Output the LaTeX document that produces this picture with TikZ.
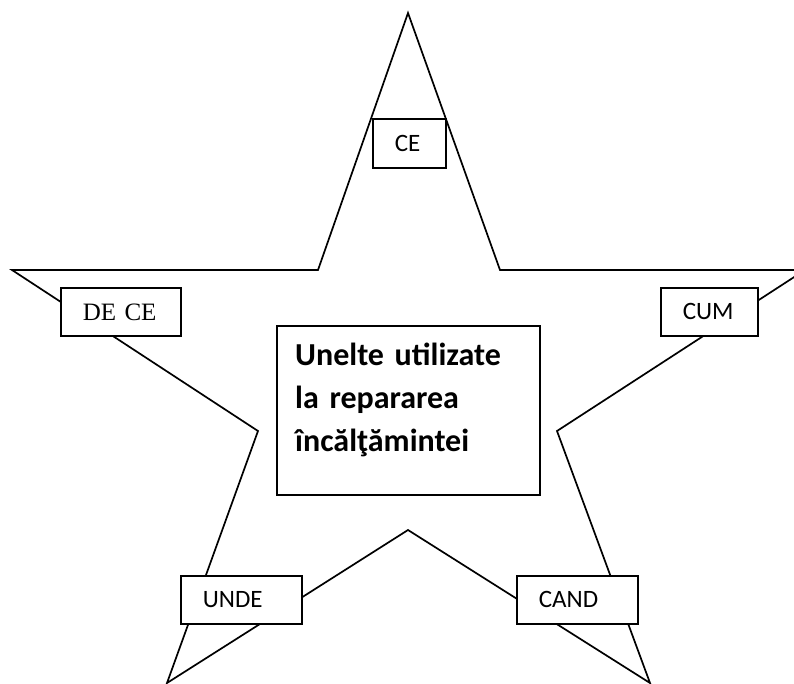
\documentclass[tikz,border=0pt]{standalone}
\usepackage{fontspec}
\setmainfont{Carlito}
\newfontfamily\timesf{Liberation Serif}
\begin{document}
\begin{tikzpicture}[x=1pt,y=-1pt,
  starline/.style={line width=1.7pt, line join=miter},
  labelbox/.style={draw, line width=1.7pt, fill=white, anchor=north west,
    inner xsep=22pt, inner ysep=0pt, align=left,
    font=\fontsize{25}{30}\selectfont},
  mainbox/.style={draw, line width=1.7pt, fill=white, anchor=north west,
    minimum width=263pt, minimum height=169pt, inner sep=0pt},
  maintext/.style={anchor=base west, inner sep=0pt, text width=240pt, align=left,
    font=\fontsize{32}{43}\selectfont\bfseries}]
\useasboundingbox (0,0) rectangle (794,684);
\clip (0,0) rectangle (794,684);
% star
\coordinate (t) at (408,13);
\coordinate (itr) at (500,270);
\coordinate (r) at (805,270);
\coordinate (ir) at (557,431);
\coordinate (br) at (650,683);
\coordinate (ib) at (408,530);
\coordinate (bl) at (167,683);
\coordinate (il) at (258,431);
\coordinate (l) at (12,270);
\coordinate (itl) at (318,270);
\draw[starline] (t) -- (itr) -- (r) -- (ir) -- (br) -- (ib) -- (bl) -- (il) -- (l) -- (itl) -- cycle;
% label boxes
\node[labelbox, text width=29pt, minimum height=49pt] (ce) at (372,118) {CE};
\node[labelbox, text width=76pt, minimum height=48pt, font=\fontsize{25}{30}\selectfont\timesf] (dece) at (60,287) {DE CE};
\node[labelbox, text width=53pt, minimum height=48pt] (cum) at (660,287) {CUM};
\node[labelbox, text width=77pt, minimum height=48pt] (unde) at (180,575) {UNDE};
\node[labelbox, text width=77pt, minimum height=48pt] (cand) at (516,575) {CAND};
% central box
\node[mainbox] (main) at (276,325) {};
\node[maintext] (title) at (295,365) {Unelte utilizate\\la repararea\\încălţămintei};
\end{tikzpicture}
\end{document}
